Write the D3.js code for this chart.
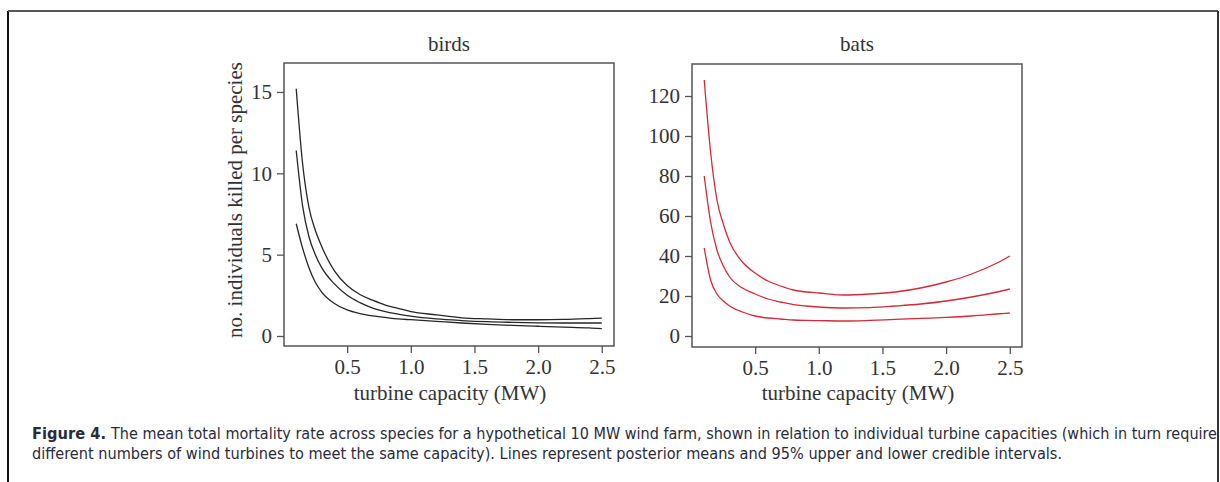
<!DOCTYPE html>
<html>
<head>
<meta charset="utf-8">
<script src="https://d3js.org/d3.v7.min.js"></script>
<style>
  body { margin: 0; background: #fff; }
  svg { display: block; }
  .tick text { font-family: "Liberation Serif", "DejaVu Serif", serif; font-size: 21px; fill: #333; }
  .tick line { stroke: #555; stroke-width: 1.3; }
  .lbl { font-family: "Liberation Serif", "DejaVu Serif", serif; font-size: 21px; fill: #333; }
  .cap { font-family: "Liberation Sans Narrow", "DejaVu Sans Condensed", "Open Sans", sans-serif; font-size: 15px; fill: #2b2b3b; }
</style>
</head>
<body>
<svg id="fig" width="1220" height="482"></svg>
<script>
var capacity = [0.1, 0.15, 0.2, 0.25, 0.3, 0.4, 0.5, 0.6, 0.7, 0.8, 0.9, 1.0, 1.2, 1.4, 1.6, 1.8, 2.0, 2.2, 2.4, 2.5];

var birdsUpper = [15.2, 10.6, 7.9, 6.5, 5.5, 4.0, 3.1, 2.55, 2.2, 1.9, 1.7, 1.5, 1.3, 1.12, 1.05, 1.0, 1.0, 1.02, 1.07, 1.1];
var birdsMean  = [11.4, 8.0, 6.1, 5.0, 4.2, 3.2, 2.5, 2.05, 1.72, 1.5, 1.35, 1.22, 1.05, 0.95, 0.88, 0.84, 0.81, 0.8, 0.8, 0.8];
var birdsLower = [6.9, 5.4, 4.2, 3.3, 2.7, 2.0, 1.6, 1.38, 1.24, 1.14, 1.05, 1.0, 0.9, 0.8, 0.72, 0.65, 0.6, 0.55, 0.5, 0.45];

var batsUpper = [128, 92, 68, 56, 47, 37, 31.5, 27.5, 25, 23, 22, 21.5, 20.5, 21, 22, 24, 27, 31, 36.5, 40];
var batsMean  = [80, 57, 43, 35, 29.5, 24, 21, 18.5, 17, 15.7, 15, 14.5, 14, 14.2, 15, 16, 17.5, 19.5, 22, 23.5];
var batsLower = [44, 28, 21, 17.5, 15, 12, 10, 9, 8.5, 8, 7.8, 7.7, 7.5, 7.8, 8.3, 8.8, 9.3, 10, 11, 11.5];

var xTicks = [0.5, 1.0, 1.5, 2.0, 2.5];
var birdsTicks = [0, 5, 10, 15];
var batsTicks = [0, 20, 40, 60, 80, 100, 120];

var captionLine1a = 'Figure 4.';
var captionLine1b = 'The mean total mortality rate across species for a hypothetical 10 MW wind farm, shown in relation to individual turbine capacities (which in turn require';
var captionLine2 = 'different numbers of wind turbines to meet the same capacity). Lines represent posterior means and 95% upper and lower credible intervals.';

var svg = d3.select('#fig');

// outer frame of the figure page
svg.append('line').attr('x1', 8).attr('x2', 8).attr('y1', 11).attr('y2', 482)
   .attr('stroke', '#111').attr('stroke-width', 2);
svg.append('line').attr('x1', 8).attr('x2', 1218).attr('y1', 11).attr('y2', 11)
   .attr('stroke', '#555').attr('stroke-width', 2);
svg.append('line').attr('x1', 1218).attr('x2', 1218).attr('y1', 11).attr('y2', 482)
   .attr('stroke', '#333').attr('stroke-width', 2);

function panel(opts) {
  var x = d3.scaleLinear().domain([0.004, 2.596]).range([opts.left, opts.right]);
  var y = d3.scaleLinear().domain(opts.ydom).range([opts.bottom, opts.top]);
  var g = svg.append('g');

  g.append('g')
    .attr('transform', 'translate(0,' + opts.bottom + ')')
    .call(d3.axisBottom(x).tickValues(xTicks).tickFormat(d3.format('.1f')).tickSize(7).tickPadding(6))
    .call(a => a.select('.domain').remove());

  g.append('g')
    .attr('transform', 'translate(' + opts.left + ',0)')
    .call(d3.axisLeft(y).tickValues(opts.ticks).tickSize(7).tickPadding(5))
    .call(a => a.select('.domain').remove());

  g.append('rect')
    .attr('x', opts.left).attr('y', opts.top)
    .attr('width', opts.right - opts.left).attr('height', opts.bottom - opts.top)
    .attr('fill', 'none').attr('stroke', '#555').attr('stroke-width', 1.5);

  var line = d3.line()
    .x((d, i) => x(capacity[i]))
    .y(d => y(d))
    .curve(d3.curveMonotoneX);

  g.selectAll('.series')
    .data(opts.series)
    .enter()
    .append('path')
      .attr('d', line)
      .attr('fill', 'none')
      .attr('stroke', opts.color)
      .attr('stroke-width', 1.3);

  g.append('text').attr('class', 'lbl')
    .attr('x', (opts.left + opts.right) / 2).attr('y', 51)
    .attr('text-anchor', 'middle').text(opts.title);

  g.append('text').attr('class', 'lbl')
    .attr('x', (opts.left + opts.right) / 2 + 1).attr('y', 400)
    .attr('text-anchor', 'middle').text('turbine capacity (MW)');
}

panel({
  left: 284, right: 614, top: 63, bottom: 346,
  ydom: [-0.615, 16.78], ticks: birdsTicks,
  series: [birdsUpper, birdsMean, birdsLower],
  color: '#262626', title: 'birds'
});

panel({
  left: 692, right: 1022, top: 64, bottom: 347,
  ydom: [-5.5, 136], ticks: batsTicks,
  series: [batsUpper, batsMean, batsLower],
  color: '#d42a38', title: 'bats'
});

svg.append('text').attr('class', 'lbl')
  .attr('transform', 'translate(242,200) rotate(-90)')
  .attr('text-anchor', 'middle')
  .text('no. individuals killed per species');

// caption
svg.append('text').attr('class', 'cap')
  .attr('x', 32).attr('y', 439)
  .attr('font-weight', 'bold')
  .attr('textLength', 74).attr('lengthAdjust', 'spacingAndGlyphs')
  .text(captionLine1a);
svg.append('text').attr('class', 'cap')
  .attr('x', 111).attr('y', 439)
  .attr('textLength', 1106).attr('lengthAdjust', 'spacingAndGlyphs')
  .text(captionLine1b);
svg.append('text').attr('class', 'cap')
  .attr('x', 32).attr('y', 459)
  .attr('textLength', 1030).attr('lengthAdjust', 'spacingAndGlyphs')
  .text(captionLine2);
</script>
</body>
</html>
